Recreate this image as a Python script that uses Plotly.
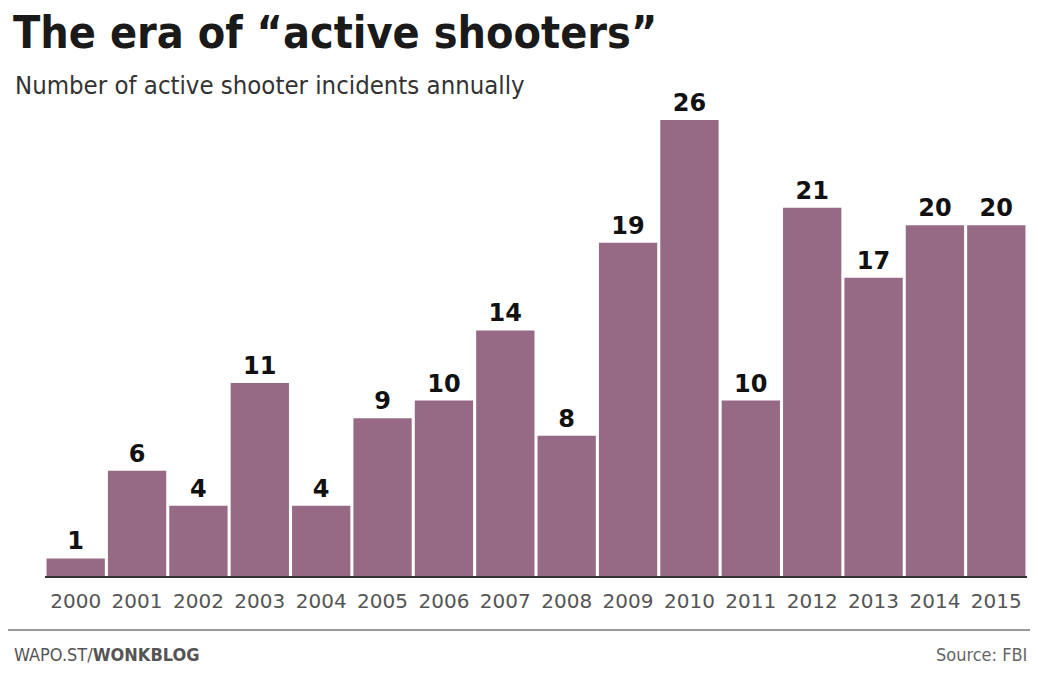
import plotly.graph_objects as go

years = ["2000", "2001", "2002", "2003", "2004", "2005", "2006", "2007",
         "2008", "2009", "2010", "2011", "2012", "2013", "2014", "2015"]
incidents = [1, 6, 4, 11, 4, 9, 10, 14, 8, 19, 26, 10, 21, 17, 20, 20]

BAR = "#966a84"
COND = "DejaVu Sans Condensed, Liberation Sans Narrow, Arial Narrow, sans-serif"

# figure geometry (page has an 8px body margin; keep figure inside the viewport)
W, H = 1022, 657
L, R, T, B = 37, 3, 92, 89
PW, PH = W - L - R, H - T - B


def px(xf):
    return (xf - L) / PW


def py(yf):
    return (H - B - yf) / PH


fig = go.Figure()
fig.add_trace(go.Bar(
    x=years, y=incidents,
    marker=dict(color=BAR, line=dict(width=0)),
    text=[str(v) for v in incidents],
    textposition="outside",
    textfont=dict(family="DejaVu Sans, sans-serif", size=24, color="#111"),
    texttemplate="<b>%{text}</b>",
    cliponaxis=False,
))

fig.update_layout(
    width=W, height=H,
    margin=dict(l=L, r=R, t=T, b=B),
    paper_bgcolor="white", plot_bgcolor="white",
    bargap=0.05,
    showlegend=False,
    xaxis=dict(
        type="category", range=[-0.5, 15.5],
        showline=True, linecolor="#333", linewidth=2,
        showgrid=False, ticks="", fixedrange=True,
        tickfont=dict(family="DejaVu Sans, sans-serif", size=20, color="#555"),
        ticklabelstandoff=6,
    ),
    yaxis=dict(range=[0, 27.14], visible=False, showgrid=False, fixedrange=True),
    annotations=[
        dict(xref="paper", yref="paper", x=px(3), y=py(24),
             xanchor="left", yanchor="middle", showarrow=False,
             text="<b>The era of “active shooters”</b>",
             font=dict(family=COND, size=44.5, color="#1a1a1a")),
        dict(xref="paper", yref="paper", x=px(5), y=py(77),
             xanchor="left", yanchor="middle", showarrow=False,
             text="Number of active shooter incidents annually",
             font=dict(family=COND, size=25.5, color="#333")),
        dict(xref="paper", yref="paper", x=px(4), y=py(646),
             xanchor="left", yanchor="middle", showarrow=False,
             text="WAPO.ST/<b>WONKBLOG</b>",
             font=dict(family=COND, size=18, color="#555")),
        dict(xref="paper", yref="paper", x=px(1021), y=py(646),
             xanchor="right", yanchor="middle", showarrow=False,
             text="Source: FBI",
             font=dict(family=COND, size=18, color="#666")),
    ],
    shapes=[
        dict(type="line", xref="paper", yref="paper",
             x0=px(0), x1=px(W), y0=py(622), y1=py(622),
             line=dict(color="#999", width=2)),
    ],
)

fig.write_html("out.html")
